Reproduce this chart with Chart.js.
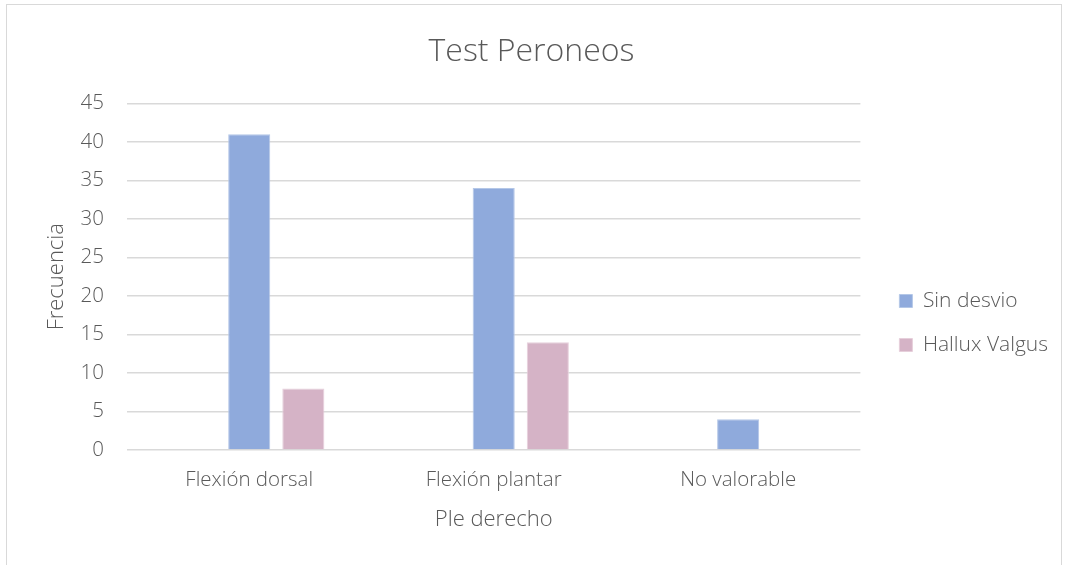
<!DOCTYPE html>
<html>
<head>
<meta charset="utf-8">
<script src="https://cdn.jsdelivr.net/npm/chart.js@4/dist/chart.umd.min.js"></script>
<style>
  html, body { margin: 0; padding: 0; background: #fff; }
  #wrap {
    position: absolute; left: 6px; top: 4px;
    width: 1056px; height: 570px;
    border: 1px solid #d9d9d9; box-sizing: border-box;
  }
  canvas { display: block; }
</style>
</head>
<body>
<div id="wrap"><canvas id="chart"></canvas></div>
<script>
// Test Peroneos - frecuencia por categoria
const categories = ['Flexión dorsal', 'Flexión plantar', 'No valorable'];
const blankSeries = [0, 0, 0];          // empty first series (keeps Excel spacing)
const sinDesvio = [41, 34, 4];
const halluxValgus = [8, 14, 0];
const yTicks = [0, 5, 10, 15, 20, 25, 30, 35, 40, 45];

const textColor = '#595959';
const fontFam = "'Open Sans', 'DejaVu Sans', sans-serif";

// nudge the legend block (Excel puts it a bit lower / further right)
const legendShift = { x: 16, y: 40 };
const shiftLegend = {
  id: 'shiftLegend',
  afterLayout(chart) {
    const lg = chart.legend;
    if (!lg) return;
    lg.left += legendShift.x; lg.right += legendShift.x;
    lg.top += legendShift.y; lg.bottom += legendShift.y;
  }
};

const ctx = document.querySelector('#chart').getContext('2d');
new Chart(ctx, {
  type: 'bar',
  data: {
    labels: categories,
    datasets: [
      { label: '', data: blankSeries, backgroundColor: 'rgba(0,0,0,0)' },
      { label: 'Sin desvio', data: sinDesvio, backgroundColor: '#8faadc', borderColor: '#b4c7e7', borderWidth: 1 },
      { label: 'Hallux Valgus', data: halluxValgus, backgroundColor: '#d5b3c6', borderColor: '#e6cfdb', borderWidth: 1 }
    ]
  },
  plugins: [shiftLegend],
  options: {
    responsive: true,
    maintainAspectRatio: false,
    animation: false,
    categoryPercentage: 0.664,
    barPercentage: 0.778,
    layout: { padding: { left: 14, right: 19, top: 24, bottom: 36 } },
    plugins: {
      title: {
        display: true, text: 'Test Peroneos', color: textColor,
        font: { family: fontFam, size: 32, weight: '300' },
        padding: { top: 4, bottom: 32 }
      },
      legend: {
        position: 'right',
        labels: {
          color: textColor,
          font: { family: fontFam, size: 21, weight: '300' },
          boxWidth: 13, boxHeight: 13, padding: 23,
          filter: item => item.text !== ''
        }
      },
      tooltip: { enabled: false }
    },
    scales: {
      x: {
        grid: { display: false },
        border: { display: false },
        ticks: { color: textColor, font: { family: fontFam, size: 20.5, weight: '300' }, padding: 10 },
        title: {
          display: true, text: 'Ple derecho', color: textColor,
          font: { family: fontFam, size: 22, weight: '300' }, padding: { top: 4, bottom: 4 }
        }
      },
      y: {
        min: 0, max: 45,
        afterBuildTicks: axis => { axis.ticks = yTicks.map(v => ({ value: v })); },
        afterFit: axis => { axis.width = 106; },
        grid: { color: '#d9d9d9', lineWidth: 1.5, drawTicks: false },
        border: { display: false },
        ticks: { color: textColor, font: { family: fontFam, size: 20.5, weight: '300' }, padding: 23 },
        title: {
          display: true, text: 'Frecuencia', color: textColor,
          font: { family: fontFam, size: 22, weight: '300' }, padding: { top: 23, bottom: 0 }
        }
      }
    }
  }
});
</script>
</body>
</html>
